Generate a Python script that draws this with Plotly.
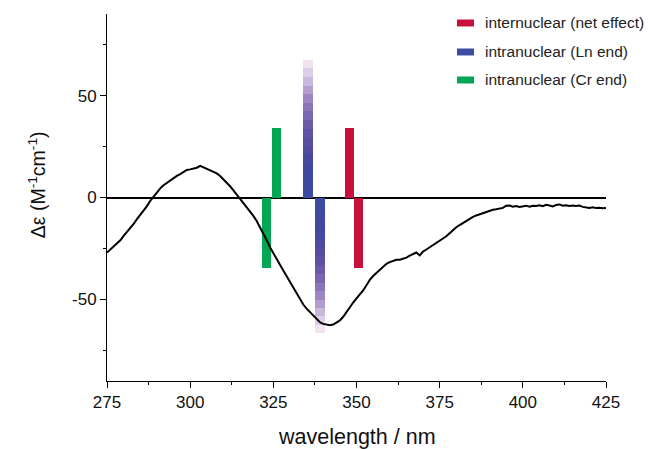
import plotly.graph_objects as go

# ---------------- data ----------------
wavelength = [275, 276, 277, 278, 279, 280, 281, 282, 283, 284, 285, 286, 287, 288, 289,
              290, 291, 292, 293, 294, 295, 296, 297, 298, 299, 300, 301, 302, 303, 304,
              305, 306, 307, 308, 309, 310, 311, 312, 313, 314, 315, 316, 317, 318, 319,
              320, 321, 322, 323, 324, 325, 326, 327, 328, 329, 330, 331, 332, 333, 334,
              335, 336, 337, 338, 339, 340, 341, 342, 343, 344, 345, 346, 347, 348, 349,
              350, 351, 352, 353, 354, 355, 356, 357, 358, 359, 360, 361, 362, 363, 364,
              365, 366, 367, 368, 369, 370, 371, 372, 373, 374, 375, 376, 377, 378, 379,
              380, 381, 382, 383, 384, 385, 386, 387, 388, 389, 390, 391, 392, 393, 394,
              395, 396, 397, 398, 399, 400, 401, 402, 403, 404, 405, 406, 407, 408, 409,
              410, 411, 412, 413, 414, 415, 416, 417, 418, 419, 420, 421, 422, 423, 424, 425]
delta_eps = [-27.0, -25.5, -24.0, -22.3, -21.0, -18.8, -17.0, -15.2, -13.0, -10.6, -8.6, -6.5, -4.2, -1.6, 0.5,
             2.8, 4.5, 6.0, 7.2, 8.5, 9.5, 10.6, 11.5, 12.5, 13.5, 13.8, 14.2, 14.6, 15.5, 14.8,
             14.0, 13.3, 12.5, 11.8, 10.5, 9.0, 7.5, 5.5, 3.5, 1.5, -0.5, -2.5, -4.5, -6.6, -9.0,
             -11.5, -14.5, -17.5, -21.0, -24.4, -27.5, -30.5, -33.0, -35.8, -38.5, -41.5, -44.5, -47.2, -50.0, -52.5,
             -54.5, -56.2, -58.0, -59.8, -61.2, -62.0, -62.5, -62.7, -62.3, -61.5, -60.3, -58.5, -56.0, -53.8, -51.5,
             -49.5, -47.5, -45.6, -43.0, -40.4, -38.5, -37.0, -35.8, -34.0, -32.5, -31.7, -31.0, -30.5, -30.5, -30.1,
             -29.5, -28.5, -27.6, -27.0, -28.4, -26.5, -25.5, -24.4, -23.5, -22.5, -21.2, -20.3, -19.0, -17.5, -16.0,
             -14.6, -13.5, -12.5, -11.3, -10.5, -9.5, -8.8, -8.2, -7.5, -7.0, -6.4, -6.0, -5.8, -5.4, -5.1,
             -4.0, -3.9, -4.5, -4.2, -4.6, -4.4, -4.0, -4.5, -4.1, -4.2, -3.8, -4.3, -3.6, -3.9, -4.4,
             -3.7, -3.4, -4.0, -3.8, -4.2, -3.9, -4.2, -3.9, -4.6, -4.9, -5.1, -4.8, -5.2, -5.0, -5.3, -5.2]

series_names = ["internuclear (net effect)", "intranuclear (Ln end)", "intranuclear (Cr end)"]
red_x = [347.9, 350.6]
red_y = [34.2, -34.5]
blue_x = [335.4, 339.0]
blue_y = [67.5, -66.7]
green_x = [323.0, 325.9]
green_y = [-34.5, 34.0]

x_ticks = [275, 300, 325, 350, 375, 400, 425]
y_ticks = [-50, 0, 50]
y_ticklabels = ["-50", "0", "50"]

# ---------------- styles ----------------
RED = "#C8103E"
BLUE = "#3E4BA0"
GREEN = "#00A652"
FONT = "Liberation Sans, Arial, sans-serif"

# gradient stops for the Ln bars (t = 0 at baseline, 1 at tip)
stops = [(0.0, (60, 74, 160)), (0.25, (66, 72, 156)), (0.5, (100, 82, 165)),
         (0.7, (150, 126, 190)), (0.88, (214, 198, 228)), (1.0, (252, 234, 241))]


def grad_color(t):
    for (t0, c0), (t1, c1) in zip(stops[:-1], stops[1:]):
        if t <= t1:
            f = (t - t0) / (t1 - t0)
            c = [round(a + (b - a) * f) for a, b in zip(c0, c1)]
            return "rgb(%d,%d,%d)" % tuple(c)
    return "rgb(%d,%d,%d)" % stops[-1][1]


fig = go.Figure()

# solid bars
fig.add_trace(go.Bar(x=green_x, y=green_y, width=2.7, marker=dict(color=GREEN, line=dict(width=0)),
                     showlegend=False, hoverinfo="skip"))
fig.add_trace(go.Bar(x=red_x, y=red_y, width=2.6, marker=dict(color=RED, line=dict(width=0)),
                     showlegend=False, hoverinfo="skip"))

# gradient bars built as stacked segments
N = 16
for cx, v in zip(blue_x, blue_y):
    seg = v / N
    fig.add_trace(go.Bar(x=[cx] * N, y=[seg] * N, base=[seg * k for k in range(N)],
                         width=3.2,
                         marker=dict(color=[grad_color((k + 0.5) / N) for k in range(N)], line=dict(width=0)),
                         showlegend=False, hoverinfo="skip"))

# CD curve
fig.add_trace(go.Scatter(x=wavelength, y=delta_eps, mode="lines",
                         line=dict(color="black", width=2), showlegend=False))

fig.update_layout(
    width=649, height=449,
    margin=dict(l=107, r=43, t=14, b=68),
    paper_bgcolor="white", plot_bgcolor="white",
    barmode="overlay", bargap=0,
    font=dict(family=FONT, size=17, color="#111"),
)
fig.update_xaxes(range=[275, 425], tickvals=x_ticks, ticks="outside", ticklen=6, tickwidth=1,
                 tickcolor="black", showline=True, linecolor="black", linewidth=1,
                 showgrid=False, zeroline=False,
                 minor=dict(dtick=12.5, tick0=275, ticks="outside", ticklen=3, tickcolor="black", showgrid=False),
                 tickfont=dict(size=17, family=FONT, color="#111"))
fig.update_yaxes(range=[-90, 90], tickvals=y_ticks, ticktext=y_ticklabels, ticks="outside", ticklen=6,
                 tickwidth=1, tickcolor="black", showline=True, linecolor="black", linewidth=1,
                 showgrid=False, zeroline=True, zerolinecolor="black", zerolinewidth=1.5,
                 minor=dict(dtick=25, tick0=0, ticks="outside", ticklen=3, tickcolor="black", showgrid=False),
                 tickfont=dict(size=17, family=FONT, color="#111"))

# axis titles
fig.add_annotation(text="wavelength / nm", xref="paper", yref="paper", x=0.5, y=-0.153,
                   xanchor="center", yanchor="middle", showarrow=False,
                   font=dict(size=21.5, family=FONT, color="#111"))
fig.add_annotation(text="\u0394\u03b5 (M<sup>-1</sup>cm<sup>-1</sup>)", xref="paper", yref="paper",
                   x=-0.14, y=0.534, textangle=-90, xanchor="center", yanchor="middle", showarrow=False,
                   font=dict(size=19.5, family=FONT, color="#111"))

# custom legend
leg_colors = [RED, BLUE, GREEN]
leg_y = [0.9755, 0.8965, 0.8202]
for name, col, yy in zip(series_names, leg_colors, leg_y):
    fig.add_shape(type="rect", xref="paper", yref="paper", x0=0.7014, x1=0.7355,
                  y0=yy - 0.0095, y1=yy + 0.0095, fillcolor=col, line=dict(width=0))
    fig.add_annotation(text=name, xref="paper", yref="paper", x=0.7535, y=yy,
                       xanchor="left", yanchor="middle", showarrow=False,
                       font=dict(size=15.5, family=FONT, color="#222"))

fig.write_html("out.html")
